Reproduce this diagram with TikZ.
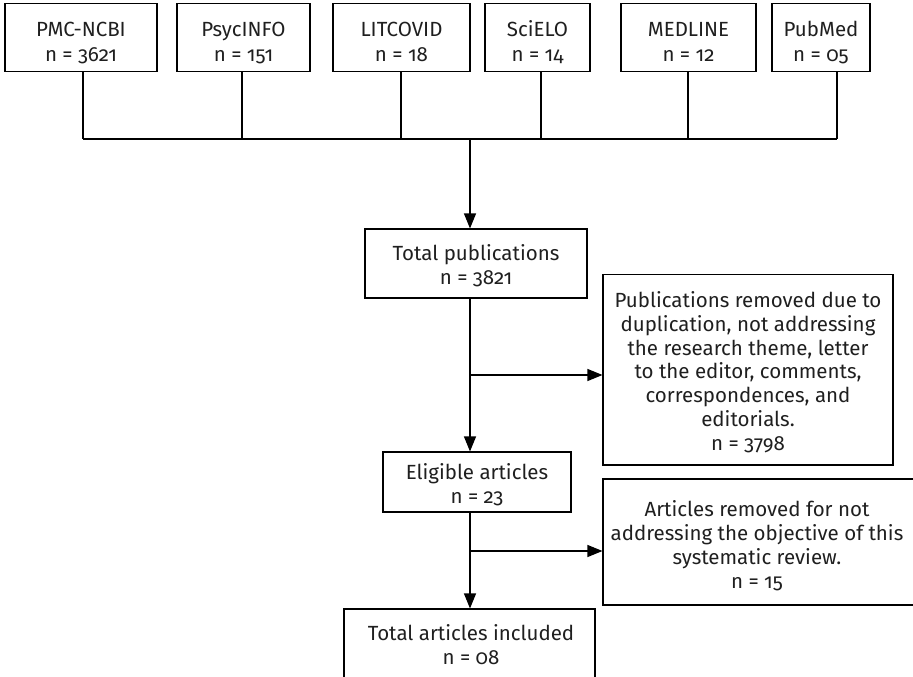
\documentclass[tikz,border=0pt]{standalone}
\usepackage{fontspec}
\setmainfont{Fira Sans}[Numbers=OldStyle]
\usetikzlibrary{arrows.meta}
\begin{document}
\begin{tikzpicture}[x=1pt,y=-1pt,
  box/.style={draw=black,line width=1.1pt,inner sep=0pt},
  txt/.style={inner sep=0pt,align=center,anchor=base,text=black!88,
    font=\fontsize{20.5}{23.8}\selectfont},
  toptxt/.style={txt,font=\fontsize{20.5}{25.6}\selectfont},
  conn/.style={line width=1.1pt,draw=black},
  arr/.style={conn,-{Triangle[length=15pt,width=12pt]}}]
\useasboundingbox (0,0) rectangle (913,677);
% source boxes
\node[box,minimum width=152pt,minimum height=68.4pt] (b1) at (81,37.5) {};
\node[box,minimum width=133pt,minimum height=68.4pt] (b2) at (243.5,37.5) {};
\node[box,minimum width=137pt,minimum height=68.4pt] (b3) at (401.5,37.5) {};
\node[box,minimum width=105pt,minimum height=68.4pt] (b4) at (537.5,37.5) {};
\node[box,minimum width=135pt,minimum height=68.4pt] (b5) at (688.5,37.5) {};
\node[box,minimum width=98pt,minimum height=68.4pt] (b6) at (821,37.5) {};
% texts are placed by the baseline of their last line
\node[toptxt] (t1) at (81,61.6) {PMC-NCBI\\n = 3621};
\node[toptxt] (t2) at (243.5,61.6) {PsycINFO\\n = 151};
\node[toptxt] (t3) at (401.5,61.6) {LITCOVID\\n = 18};
\node[toptxt] (t4) at (537.5,61.6) {SciELO\\n = 14};
\node[toptxt] (t5) at (688.5,61.6) {MEDLINE\\n = 12};
\node[toptxt] (t6) at (821,61.6) {PubMed\\n = 05};
% main flow boxes
\node[box,minimum width=222pt,minimum height=69pt] (tot) at (476,263.5) {};
\node[box,minimum width=290pt,minimum height=190.5pt] (rem1) at (748,369.75) {};
\node[box,minimum width=188pt,minimum height=60pt] (elig) at (477,482) {};
\node[box,minimum width=316pt,minimum height=126pt] (rem2) at (761,542) {};
\node[box,minimum width=251pt,minimum height=80pt] (fin) at (469.5,649) {};
% texts
\node[txt] (ttot) at (476,284.7) {Total publications\\n = 3821};
\node[txt] (trem1) at (748,450.3)
  {Publications removed due to\\duplication, not addressing\\the research theme, letter\\to the editor, comments,\\correspondences, and\\editorials.\\n = 3798};
\node[txt] (telig) at (477,503.3) {Eligible articles\\n = 23};
\node[txt] (trem2) at (757,588.3)
  {Articles removed for not\\addressing the objective of this\\systematic review.\\n = 15};
\node[txt] (tfin) at (471,664) {Total articles included\\n = 08};
% junction coordinates
\coordinate (jl) at (83,139);
\coordinate (jr) at (837,139);
\coordinate (jc) at (470,139);
\coordinate (j1) at (470,375);
\coordinate (j2) at (470,551);
% connectors from sources
\draw[conn] ([xshift=2pt]b1.south) -- ([xshift=2pt]b1.south |- jl);
\draw[conn] ([xshift=-1.5pt]b2.south) -- ([xshift=-1.5pt]b2.south |- jl);
\draw[conn] ([xshift=-0.5pt]b3.south) -- ([xshift=-0.5pt]b3.south |- jl);
\draw[conn] ([xshift=3.5pt]b4.south) -- ([xshift=3.5pt]b4.south |- jl);
\draw[conn] ([xshift=-0.5pt]b5.south) -- ([xshift=-0.5pt]b5.south |- jl);
\draw[conn] ([xshift=16pt]b6.south) -- ([xshift=16pt]b6.south |- jr);
\draw[conn] (jl) -- (jr);
\draw[arr] (jc) -- (jc |- tot.north);
\draw[arr] (jc |- tot.south) -- (jc |- elig.north);
\draw[arr] (j1) -- (j1 -| rem1.west);
\draw[arr] (jc |- elig.south) -- (jc |- fin.north);
\draw[arr] (j2) -- (j2 -| rem2.west);
\end{tikzpicture}
\end{document}
